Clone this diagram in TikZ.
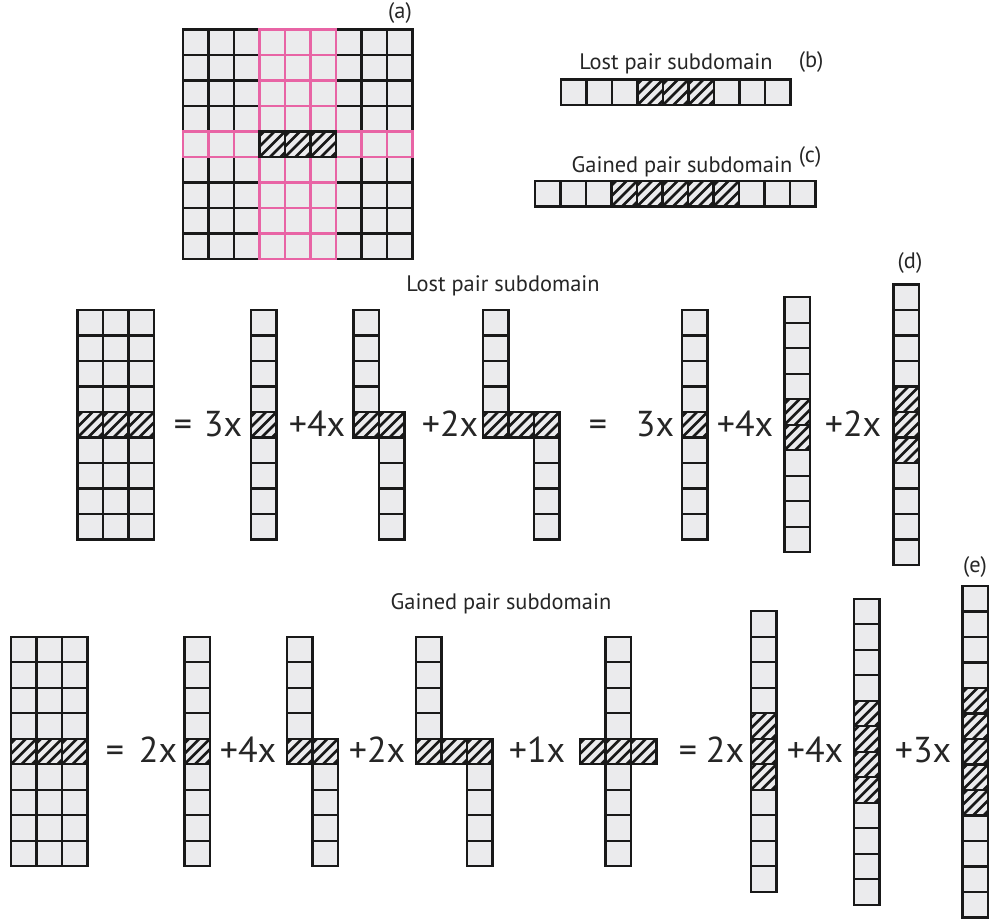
\documentclass[tikz,border=0pt]{standalone}
\usepackage{fontspec}
\setmainfont{PT Sans}
\definecolor{cellgray}{RGB}{235,235,237}
\definecolor{crosspink}{RGB}{232,100,165}
% plain cell, top-left corner given
\newcommand{\pcell}[3][black!90]{\filldraw[draw=#1,fill=cellgray,line width=1.7pt] ({#2},{#3}) rectangle ++(25.5,25.5);}
% hatched cell
\newcommand{\hcell}[2]{%
  \begin{scope}
    \clip ({#1},{#2}) rectangle ++(25.5,25.5);
    \fill[cellgray] ({#1},{#2}) rectangle ++(25.5,25.5);
    \foreach \k in {-3,...,3}
      \draw[black!90,line width=2pt] ({#1},{#2}) ++(\k*10.5,25.5) -- ++(25.5,-25.5);
  \end{scope}
  \draw[black!90,line width=1.7pt] ({#1},{#2}) rectangle ++(25.5,25.5);}
% column: x, top y, cells, first and last hatched
\newcommand{\vstrip}[5]{%
  \foreach \r in {1,...,#3}{%
    \ifnum\r<#4 \pcell{#1}{#2+(\r-1)*25.5}\else\ifnum\r>#5 \pcell{#1}{#2+(\r-1)*25.5}\else\hcell{#1}{#2+(\r-1)*25.5}\fi\fi}}
% row: left x, y, cells, first and last hatched
\newcommand{\hstrip}[5]{%
  \foreach \c in {1,...,#3}{%
    \ifnum\c<#4 \pcell{#1+(\c-1)*25.5}{#2}\else\ifnum\c>#5 \pcell{#1+(\c-1)*25.5}{#2}\else\hcell{#1+(\c-1)*25.5}{#2}\fi\fi}}

\begin{document}
\begin{tikzpicture}[x=0.75pt,y=-0.75pt,line join=miter,
  caption/.style={font=\fontsize{16.8}{19}\selectfont,text=black!85,inner sep=0pt},
  term/.style={font=\fontsize{27}{30}\selectfont,text=black!85,anchor=base,inner sep=0pt}]
\useasboundingbox (0,0) rectangle (990,919);

% (a) full grid with the cross
\foreach \c in {1,...,9}
  \foreach \r in {1,...,9} {\pcell{183+(\c-1)*25.5}{29.5+(\r-1)*25.5}}
\foreach \c in {4,5,6}
  \foreach \r in {1,...,9} {\pcell[crosspink]{183+(\c-1)*25.5}{29.5+(\r-1)*25.5}}
\foreach \c in {1,2,3,7,8,9} {\pcell[crosspink]{183+(\c-1)*25.5}{131.5}}
\foreach \c in {4,5,6} {\hcell{183+(\c-1)*25.5}{131.5}}
\node[caption] (tag-a) at (400,13) {(a)};

% (b) and (c) strips
\node[caption] (title-b) at (676,64) {Lost pair subdomain};
\node[caption] (tag-b) at (811,62) {(b)};
\hstrip{561}{79.5}{9}{4}{6}
\node[caption] (title-c) at (682,167) {Gained pair subdomain};
\node[caption] (tag-c) at (810,157) {(c)};
\hstrip{535}{181}{11}{4}{8}

% (d) lost pair decomposition
\node[caption] (title-d) at (503,286) {Lost pair subdomain};
\node[caption] (tag-d) at (910,263) {(d)};
\vstrip{77.5}{310}{9}{5}{5}
\vstrip{103}{310}{9}{5}{5}
\vstrip{128.5}{310}{9}{5}{5}
\node[term] (eq-d1) at (183,437) {=};
\node[term] (n-d1) at (223,437) {3x};
\vstrip{251}{310}{9}{5}{5}
\node[term] (n-d2) at (317,437) {+4x};
\vstrip{353.5}{310}{5}{5}{5}
\vstrip{379}{412}{5}{1}{1}
\node[term] (n-d3) at (450,437) {+2x};
\vstrip{483}{310}{5}{5}{5}
\hcell{508.5}{412}
\vstrip{534}{412}{5}{1}{1}
\node[term] (eq-d2) at (598,437) {=};
\node[term] (n-d4) at (655,437) {3x};
\vstrip{682}{310}{9}{5}{5}
\node[term] (n-d5) at (745,437) {+4x};
\vstrip{784.5}{297.25}{10}{5}{6}
\node[term] (n-d6) at (853,437) {+2x};
\vstrip{893.5}{284.5}{11}{5}{7}

% (e) gained pair decomposition
\node[caption] (title-e) at (501,604) {Gained pair subdomain};
\node[caption] (tag-e) at (975,567) {(e)};
\vstrip{11}{636.7}{9}{5}{5}
\vstrip{36.5}{636.7}{9}{5}{5}
\vstrip{62}{636.7}{9}{5}{5}
\node[term] (eq-e1) at (115,763) {=};
\node[term] (n-e1) at (158,763) {2x};
\vstrip{184.5}{636.7}{9}{5}{5}
\node[term] (n-e2) at (248,763) {+4x};
\vstrip{287}{636.7}{5}{5}{5}
\vstrip{312.5}{738.7}{5}{1}{1}
\node[term] (n-e3) at (377,763) {+2x};
\vstrip{416}{636.7}{5}{5}{5}
\hcell{441.5}{738.7}
\vstrip{467}{738.7}{5}{1}{1}
\node[term] (n-e4) at (537,763) {+1x};
\hcell{580}{738.7}
\vstrip{605.5}{636.7}{9}{5}{5}
\hcell{631}{738.7}
\node[term] (eq-e2) at (688,763) {=};
\node[term] (n-e5) at (725,763) {2x};
\vstrip{751}{611.2}{11}{5}{7}
\node[term] (n-e6) at (815,763) {+4x};
\vstrip{854}{598.7}{12}{5}{8}
\node[term] (n-e7) at (923,763) {+3x};
\vstrip{962.5}{586}{13}{5}{9}
\end{tikzpicture}
\end{document}
